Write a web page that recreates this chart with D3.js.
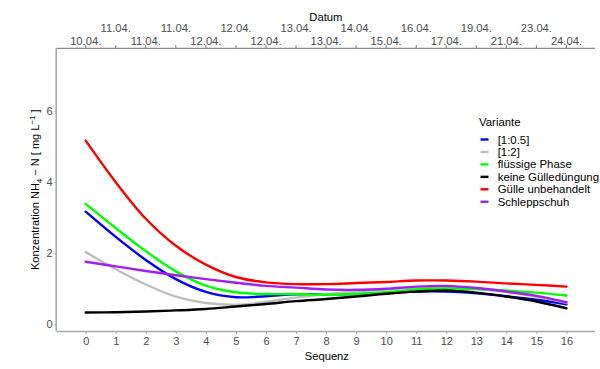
<!DOCTYPE html>
<html>
<head>
<meta charset="utf-8">
<script src="https://cdn.jsdelivr.net/npm/d3@7"></script>
<style>
html,body{margin:0;padding:0;background:#fff;}
svg{display:block;font-family:"Liberation Sans",Arial,sans-serif;}
</style>
</head>
<body>
<svg id="chart" width="600" height="369"></svg>
<script>
const sequenz = [0,1,2,3,4,5,6,7,8,9,10,11,12,13,14,15,16];
const datum = ["10.04.","11.04.","11.04.","11.04.","12.04.","12.04.","12.04.","13.04.","13.04.","14.04.","15.04.","16.04.","17.04.","19.04.","21.04.","23.04.","24.04."];
const yTicks = [0,2,4,6];
const varianten = ["[1:0.5]","[1:2]","flüssige Phase","keine Gülledüngung","Gülle unbehandelt","Schleppschuh"];
const farben = ["#0000ff","#bebebe","#00ff00","#000000","#ff0000","#a020f0"];
const v_1_05 = [3.17,2.46,1.81,1.27,0.91,0.76,0.79,0.84,0.84,0.85,0.88,0.92,0.92,0.87,0.79,0.69,0.56];
const v_1_2 = [2.03,1.55,1.12,0.78,0.60,0.55,0.63,0.75,0.85,0.92,0.98,1.03,1.05,1.00,0.91,0.78,0.60];
const v_fluessig = [3.39,2.71,2.06,1.49,1.09,0.90,0.85,0.85,0.83,0.85,0.90,0.98,1.01,0.99,0.95,0.89,0.81];
const v_keine = [0.33,0.34,0.36,0.39,0.43,0.50,0.57,0.65,0.71,0.78,0.86,0.92,0.95,0.89,0.78,0.64,0.45];
const v_guelle = [5.17,4.00,2.97,2.21,1.68,1.33,1.18,1.13,1.13,1.16,1.19,1.23,1.23,1.20,1.15,1.11,1.06];
const v_schlepp = [1.76,1.63,1.50,1.38,1.27,1.17,1.08,1.03,0.98,0.97,1.00,1.06,1.08,1.02,0.92,0.80,0.62];
const serien = [v_1_05, v_1_2, v_fluessig, v_keine, v_guelle, v_schlepp];

const svg = d3.select("#chart");
const L = 56.7, R = 595, T = 48.3, B = 331;
const x = d3.scaleLinear().domain([-0.965, 16.95]).range([L, R]);
const y = d3.scaleLinear().domain([-0.19, 7.77]).range([B, T]);

// bottom axis
const xAxis = svg.append("g").attr("transform", `translate(0,${B})`)
  .call(d3.axisBottom(x).tickValues(sequenz).tickFormat(d3.format("d")).tickSizeOuter(0).tickSize(3).tickPadding(3));
// left axis
const yAxis = svg.append("g").attr("transform", `translate(${L},0)`)
  .call(d3.axisLeft(y).tickValues(yTicks).tickSizeOuter(0).tickSize(2.5).tickPadding(1.5));
[xAxis, yAxis].forEach(a => {
  a.select(".domain").attr("stroke", "#a8a8a8").attr("stroke-width", 1.6);
  a.selectAll(".tick line").attr("stroke", "#a8a8a8");
  a.selectAll(".tick text").attr("fill", "#4d4d4d").style("font-size", "11px").style("font-family", "Liberation Sans, Arial, sans-serif");
});
xAxis.select(".domain").attr("d", `M${L},0.5H${R}`);
yAxis.select(".domain").attr("d", `M-0.5,${T}V${B}`);

// top axis
const topAx = svg.append("g").attr("transform", `translate(0,${T})`);
topAx.append("line").attr("x1", L).attr("x2", R).attr("y1", 0).attr("y2", 0).attr("stroke", "#707070").attr("stroke-width", 1);
topAx.selectAll("line.tk").data(sequenz).enter().append("line").attr("class","tk")
  .attr("x1", d => x(d)).attr("x2", d => x(d)).attr("y1", 0).attr("y2", -3).attr("stroke", "#707070");
topAx.selectAll("text.lab").data(sequenz).enter().append("text").attr("class","lab")
  .attr("x", d => x(d)).attr("y", (d,i) => i % 2 === 0 ? -3.3 : -16.6)
  .attr("text-anchor", "middle").attr("fill", "#4d4d4d").style("font-size", "11.2px")
  .text((d,i) => datum[i]);

// titles
svg.append("text").attr("x", (L+R)/2).attr("y", 21).attr("text-anchor","middle").style("font-size","11.2px").attr("fill","#000").text("Datum");
svg.append("text").attr("x", (L+R)/2+1).attr("y", 360).attr("text-anchor","middle").style("font-size","11.2px").attr("fill","#000").text("Sequenz");
const yt = svg.append("text").attr("transform", `translate(38.5,${(T+B)/2}) rotate(-90)`).attr("text-anchor","middle").style("font-size","11px").attr("fill","#000");
yt.append("tspan").text("Konzentration NH");
yt.append("tspan").attr("dy", 3).style("font-size","8px").text("4");
yt.append("tspan").attr("dy", -3).text(" \u2212 N [ mg L");
yt.append("tspan").attr("dy", -4).style("font-size","8px").text("\u22121");
yt.append("tspan").attr("dy", 4).text(" ]");

// lines
const line = d3.line().x((d,i) => x(sequenz[i])).y(d => y(d)).curve(d3.curveCatmullRom.alpha(0.5));
svg.append("g").selectAll("path").data(serien).enter().append("path")
  .attr("d", d => line(d)).attr("fill","none").attr("stroke", (d,i) => farben[i])
  .attr("stroke-width", 2.4).attr("stroke-linecap","round").attr("stroke-linejoin","round");

// legend
const lg = svg.append("g").attr("transform", "translate(479,0)");
lg.append("text").attr("x", 0).attr("y", 126).style("font-size","11.4px").attr("fill","#000").text("Variante");
const items = lg.selectAll("g.it").data(varianten).enter().append("g").attr("class","it")
  .attr("transform", (d,i) => `translate(0,${139.5 + i*12.45})`);
items.append("line").attr("x1", 1.5).attr("x2", 9.5).attr("y1", 0).attr("y2", 0)
  .attr("stroke", (d,i) => farben[i]).attr("stroke-width", 2.4);
items.append("text").attr("x", 18.7).attr("y", 4).style("font-size","11.4px").attr("fill","#000").text(d => d);
</script>
</body>
</html>
